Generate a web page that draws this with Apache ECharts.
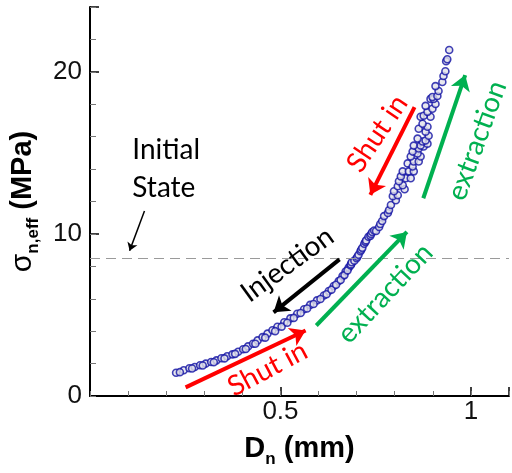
<!DOCTYPE html>
<html>
<head>
<meta charset="utf-8">
<script src="https://cdn.jsdelivr.net/npm/echarts@6/dist/echarts.min.js"></script>
<style>
  html, body { margin: 0; padding: 0; background: #fff; }
  #chart { width: 512px; height: 473px; }
</style>
</head>
<body>
<div id="chart"></div>
<script>
// D_n (mm) / sigma_n,eff (MPa), lower branch - two overlapping tracks
const lowDn1 = [0.226, 0.246, 0.261, 0.275, 0.289, 0.304, 0.318, 0.332, 0.345, 0.360, 0.374, 0.389, 0.402, 0.415, 0.428, 0.440, 0.453, 0.466, 0.479, 0.492, 0.510, 0.526, 0.544, 0.562, 0.578, 0.596, 0.614, 0.627, 0.640, 0.653, 0.663, 0.671, 0.679, 0.687];
const lowSig1 = [1.43, 1.59, 1.71, 1.79, 1.90, 2.00, 2.10, 2.20, 2.33, 2.45, 2.57, 2.73, 2.88, 3.06, 3.22, 3.43, 3.63, 3.85, 4.06, 4.27, 4.55, 4.79, 5.07, 5.35, 5.62, 5.90, 6.20, 6.48, 6.79, 7.09, 7.40, 7.68, 7.92, 8.19];
const lowDn2 = [0.236, 0.268, 0.296, 0.325, 0.353, 0.381, 0.409, 0.434, 0.460, 0.486, 0.503, 0.518, 0.535, 0.553, 0.570, 0.587, 0.605, 0.621, 0.634, 0.646, 0.658, 0.668, 0.676, 0.684, 0.685, 0.687];
const lowSig2 = [1.47, 1.70, 1.88, 2.08, 2.32, 2.60, 2.90, 3.22, 3.60, 4.00, 4.28, 4.52, 4.82, 5.12, 5.40, 5.68, 5.98, 6.28, 6.56, 6.86, 7.16, 7.46, 7.75, 8.05, 8.12, 8.25];

// upper branch (extraction / shut in cycles)
const upDn = [0.694, 0.700, 0.702, 0.705, 0.710, 0.712, 0.715, 0.720, 0.723, 0.725, 0.731, 0.736, 0.738, 0.741, 0.746, 0.751, 0.759, 0.762, 0.767, 0.772, 0.782, 0.785, 0.790, 0.803, 0.795, 0.808, 0.798, 0.826, 0.808, 0.821, 0.811, 0.829, 0.842, 0.816, 0.821, 0.837, 0.850, 0.834, 0.847, 0.850, 0.863, 0.842, 0.868, 0.860, 0.847, 0.863, 0.876, 0.850, 0.868, 0.886, 0.873, 0.881, 0.860, 0.889, 0.881, 0.863, 0.886, 0.873, 0.868, 0.894, 0.876, 0.886, 0.899, 0.881, 0.907, 0.894, 0.902, 0.899, 0.912, 0.915, 0.907, 0.925, 0.928, 0.933, 0.935, 0.938, 0.943];
const upSig = [8.35, 8.50, 8.59, 8.71, 8.93, 9.02, 9.14, 9.39, 9.51, 9.60, 9.82, 9.88, 10.00, 10.12, 10.21, 10.18, 10.43, 10.61, 10.80, 11.10, 11.29, 11.47, 11.78, 12.08, 12.33, 12.39, 12.63, 12.76, 12.94, 13.00, 13.25, 13.43, 13.43, 13.55, 13.86, 13.86, 13.86, 14.35, 14.16, 14.47, 14.47, 14.78, 14.78, 14.96, 15.08, 15.27, 15.39, 15.45, 15.45, 15.57, 15.70, 15.76, 15.88, 16.06, 16.31, 16.49, 16.61, 16.80, 17.23, 17.23, 17.29, 17.53, 17.72, 17.90, 18.02, 18.33, 18.33, 18.45, 18.51, 18.82, 19.12, 19.37, 19.74, 20.04, 20.66, 20.78, 21.35];

const initialStress = 8.5;

// annotation arrows (data coords) and labels
const arrowFrom = [[0.251, 0.53], [0.655, 8.43], [0.594, 4.35], [0.852, 17.82], [0.875, 12.20], [0.143, 11.41]];
const arrowTo = [[0.566, 4.04], [0.482, 5.16], [0.832, 10.12], [0.736, 12.41], [0.985, 19.80], [0.104, 8.96]];
const labelText = ['Initial\nState', 'Injection', 'Shut in', 'extraction', 'Shut in', 'extraction'];
const labelAt = [[0.111, 13.98], [0.518, 8.11], [0.466, 1.67], [0.775, 6.33], [0.754, 16.19], [1.016, 15.76]];
const labelAngle = [0, 36, 28, 47, 56, 70];

const RED = '#ff0000', GREEN = '#00b050', BLACK = '#000000';
const arrowColor = [RED, BLACK, GREEN, RED, GREEN, BLACK];
const labelColor = [BLACK, BLACK, RED, GREEN, RED, GREEN];

const FONT = 'Liberation Sans';
const zip = (a, b) => a.map((v, i) => [v, b[i]]);

const pointStyle = {
  color: '#e2e2ea',
  borderColor: '#1212a4',
  borderWidth: 1.6
};

const chart = echarts.init(document.getElementById('chart'));

const option = {
  animation: false,
  grid: { left: 90, top: 7, width: 425, height: 392 },
  xAxis: [
    {
      type: 'value', min: 0, max: 1.1, interval: 0.5, position: 'bottom',
      axisLine: { onZero: false, lineStyle: { color: '#000', width: 2 } },
      axisTick: { inside: true, length: 9, lineStyle: { color: '#000', width: 1.5 } },
      axisLabel: {
        formatter: v => (v === 0.5 || v === 1) ? String(v) : '',
        fontSize: 26, fontFamily: FONT, color: '#111', margin: 3
      },
      splitLine: { show: false },
      name: '{b|D}{sub|n}{b| (mm)}',
      nameLocation: 'middle',
      nameGap: 34,
      nameTextStyle: {
        rich: {
          b: { fontSize: 29, fontWeight: 'bold', fontFamily: FONT, color: '#000', lineHeight: 38, verticalAlign: 'middle' },
          sub: { fontSize: 17, fontWeight: 'bold', fontFamily: FONT, color: '#000', lineHeight: 17, verticalAlign: 'bottom' }
        }
      }
    },
    {
      type: 'value', min: 0, max: 1.1, interval: 0.1, position: 'bottom',
      axisLine: { show: false, onZero: false },
      axisTick: { inside: true, length: 5, lineStyle: { color: '#777', width: 1 } },
      axisLabel: { show: false },
      splitLine: { show: false }
    }
  ],
  yAxis: [
    {
      type: 'value', min: 0, max: 24, interval: 10, position: 'left',
      axisLine: { show: true, onZero: false, lineStyle: { color: '#000', width: 2 } },
      axisTick: { show: true, inside: true, length: 9, lineStyle: { color: '#000', width: 1.5 } },
      axisLabel: {
        formatter: v => (v % 10 === 0) ? String(v) : '',
        fontSize: 26, fontFamily: FONT, color: '#111', margin: 8
      },
      splitLine: { show: false },
      name: '{s|σ}{sub|n,eff}{b| (MPa)}',
      nameLocation: 'middle',
      nameRotate: 90,
      nameGap: 42,
      nameTextStyle: {
        rich: {
          s: { fontSize: 30, fontFamily: FONT, color: '#000', lineHeight: 38, verticalAlign: 'middle' },
          b: { fontSize: 29, fontWeight: 'bold', fontFamily: FONT, color: '#000', lineHeight: 38, verticalAlign: 'middle' },
          sub: { fontSize: 17, fontWeight: 'bold', fontFamily: FONT, color: '#000', lineHeight: 17, verticalAlign: 'bottom' }
        }
      }
    },
    {
      type: 'value', min: 0, max: 24, interval: 2, position: 'left',
      axisLine: { show: false, onZero: false },
      axisTick: { show: true, inside: true, length: 6, lineStyle: { color: '#777', width: 1 } },
      axisLabel: { show: false },
      splitLine: { show: false }
    }
  ],
  series: [
    {
      type: 'scatter', name: 'lower1',
      data: zip(lowDn1, lowSig1),
      symbol: 'circle', symbolSize: 7,
      itemStyle: pointStyle,
      markLine: {
        silent: true,
        symbol: ['none', 'none'],
        label: { show: false },
        lineStyle: { type: [10, 6], color: '#9a9a9a', width: 1.2 },
        data: [{ yAxis: initialStress }]
      }
    },
    {
      type: 'scatter', name: 'lower2',
      data: zip(lowDn2, lowSig2),
      symbol: 'circle', symbolSize: 7,
      itemStyle: pointStyle
    },
    {
      type: 'scatter', name: 'upper',
      data: zip(upDn, upSig),
      symbol: 'circle', symbolSize: 7,
      itemStyle: pointStyle
    },
    {
      type: 'line', name: 'arrows',
      data: [],
      markLine: {
        silent: true,
        label: { show: false },
        data: arrowFrom.map((p, i) => {
          const thin = i === 5;
          return [
            {
              coord: p, symbol: 'none',
              lineStyle: { color: arrowColor[i], width: thin ? 1.5 : 4, type: 'solid' }
            },
            { coord: arrowTo[i], symbol: 'arrow', symbolSize: thin ? 8 : 15 }
          ];
        })
      }
    }
  ]
};

chart.setOption(option);

// text annotations positioned from data coords
const graphics = labelText.map((t, i) => {
  const px = chart.convertToPixel({ xAxisIndex: 0, yAxisIndex: 0 }, labelAt[i]);
  return {
    type: 'text',
    x: px[0], y: px[1],
    rotation: labelAngle[i] * Math.PI / 180,
    z: 100,
    style: {
      text: t,
      fill: labelColor[i],
      fontSize: 28,
      fontFamily: 'Lato',
      lineHeight: 38,
      align: i === 0 ? 'left' : 'center',
      verticalAlign: 'middle'
    }
  };
});
chart.setOption({ graphic: graphics });
</script>
</body>
</html>
